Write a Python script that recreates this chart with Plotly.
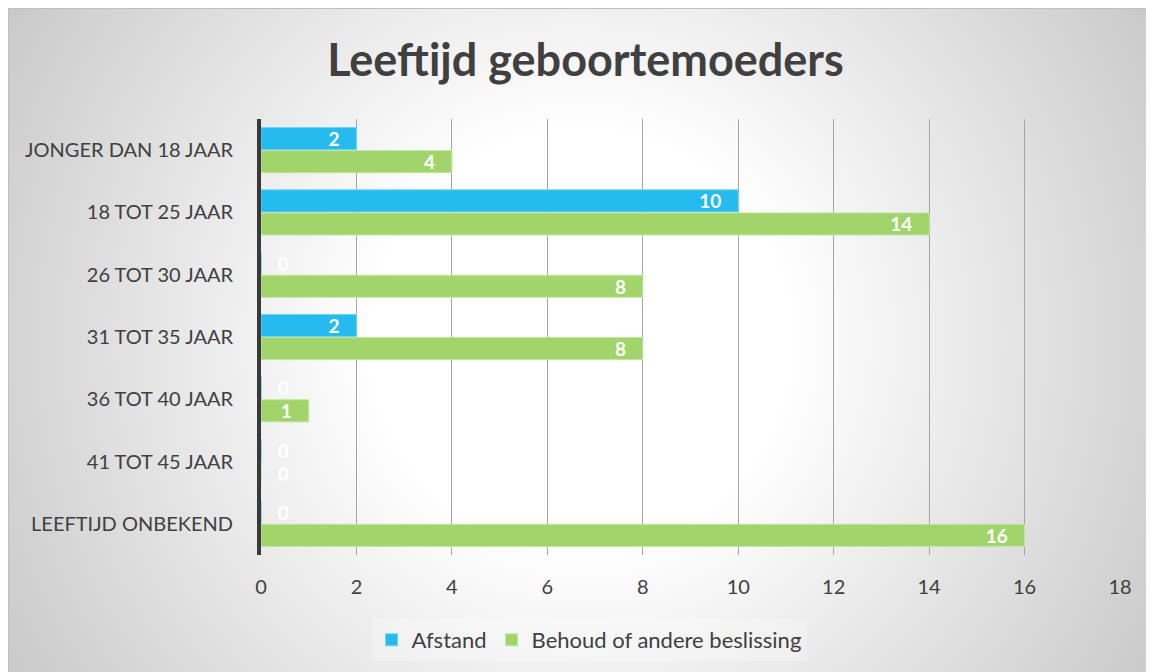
import base64
import plotly.graph_objects as go

categories = ["JONGER DAN 18 JAAR", "18 TOT 25 JAAR", "26 TOT 30 JAAR", "31 TOT 35 JAAR",
              "36 TOT 40 JAAR", "41 TOT 45 JAAR", "LEEFTIJD ONBEKEND"]
afstand = [2, 10, 0, 2, 0, 0, 0]
behoud = [4, 14, 8, 8, 1, 0, 16]
series_names = ["Afstand", "Behoud of andere beslissing"]
x_ticks = [0, 2, 4, 6, 8, 10, 12, 14, 16, 18]
title_text = "Leeftijd geboortemoeders"

# the page adds an 8px body margin, so the figure fills the rest of the window
W, H = 1146, 664
L, R, T, B = 253, 34, 111, 117
pw, ph = W - L - R, H - T - B

# background radial gradient (as an SVG image)
fw, fh = W, H
svg = f'''<svg xmlns="http://www.w3.org/2000/svg" width="{fw}" height="{fh}" viewBox="0 0 {fw} {fh}" preserveAspectRatio="none">
<defs><radialGradient id="g" gradientUnits="userSpaceOnUse" cx="{fw/2}" cy="{fh/2}" r="690">
<stop offset="0" stop-color="#ffffff"/><stop offset="0.30" stop-color="#ffffff"/>
<stop offset="1" stop-color="#c6c6c6"/></radialGradient></defs>
<rect x="0" y="0" width="{fw}" height="{fh}" fill="url(#g)"/>
<path d="M0.5,{fh} L0.5,0.5 L{fw},0.5" fill="none" stroke="#bfbfbf" stroke-width="1"/>
</svg>'''
src = "data:image/svg+xml;base64," + base64.b64encode(svg.encode()).decode()

NB = "\u00a0"

def lbl(vals):
    return [(NB * 3 + str(v)) if v == 0 else (str(v) + NB * 3) for v in vals]

def pos(vals):
    return ["outside" if v == 0 else "inside" for v in vals]

lab_font = dict(family="Lato", size=19, color="white", weight="bold")
fig = go.Figure()
colors = ["#25bbee", "#a1d56b"]
lines = ["#6fd3f5", "#c2e6a0"]
for name, vals, c, lc in zip(series_names, [afstand, behoud], colors, lines):
    fig.add_trace(go.Bar(
        y=categories, x=vals, name=name, orientation="h",
        marker=dict(color=c, line=dict(color=lc, width=1)),
        text=lbl(vals), textposition=pos(vals), insidetextanchor="end", textangle=0,
        constraintext="none",
        textfont=lab_font, outsidetextfont=lab_font, insidetextfont=lab_font,
        cliponaxis=False,
    ))

fig.update_layout(
    width=W, height=H,
    margin=dict(l=L, r=R, t=T, b=B, autoexpand=False),
    paper_bgcolor="white", plot_bgcolor="rgba(0,0,0,0)",
    barmode="group", bargap=0.26, bargroupgap=0.04,
    title=dict(text=title_text, x=577.5 / W, xref="container", y=1 - 52 / H, yref="container",
               xanchor="center", yanchor="middle",
               font=dict(family="Lato", size=45, color="#404040", weight="bold")),
    legend=dict(orientation="h", x=(581 - L) / pw, xanchor="center", y=(547 - 632) / ph,
                yanchor="middle", font=dict(family="Lato", size=22, color="#404040"),
                bgcolor="rgba(255,255,255,0.25)", itemwidth=30, traceorder="normal"),
    showlegend=True,
    images=[dict(source=src, xref="paper", yref="paper",
                 x=(0 - L) / pw, y=(H - B) / ph, sizex=fw / pw, sizey=fh / ph,
                 xanchor="left", yanchor="top", sizing="stretch", layer="below")],
    font=dict(family="Lato", color="#404040"),
)
fig.update_xaxes(range=[0, 18], tickvals=x_ticks, showgrid=True, gridcolor="#a6a6a6", gridwidth=1,
                 zeroline=False, showline=False, ticks="", automargin=False,
                 tickfont=dict(family="Lato", size=20, color="#404040"), ticklabelstandoff=18)
fig.update_yaxes(autorange="reversed", showgrid=False, showline=True, linecolor="#3a3a3a", linewidth=4,
                 ticks="", automargin=False,
                 tickfont=dict(family="Lato", size=20, color="#404040"), ticklabelstandoff=20)

fig.write_html("out.html")
